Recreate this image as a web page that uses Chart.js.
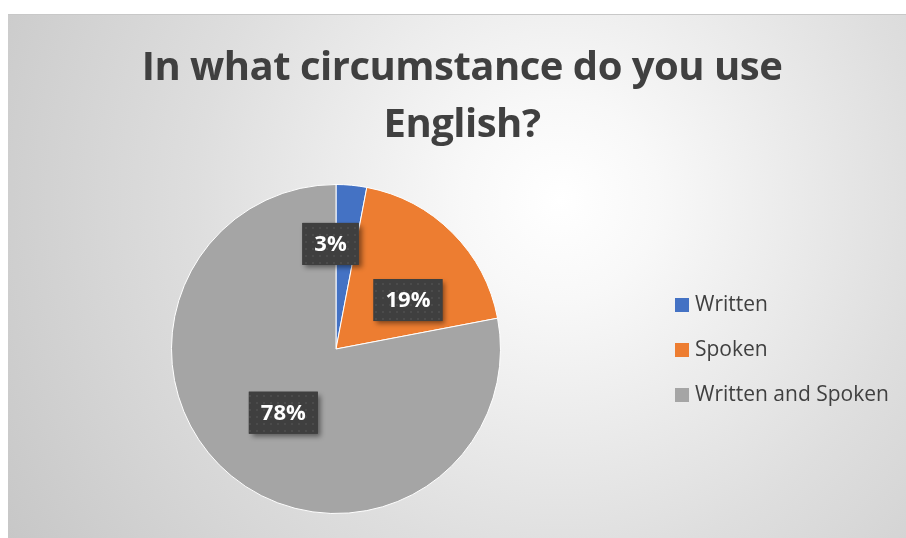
<!DOCTYPE html>
<html>
<head>
<meta charset="utf-8">
<script src="https://cdn.jsdelivr.net/npm/chart.js@4.4.1/dist/chart.umd.min.js"></script>
<style>
    html, body {
        margin: 0;
        padding: 0;
        background: #ffffff;
    }

    #wrap {
        position: absolute;
        left: 8px;
        top: 14px;
        width: 898px;
        height: 524px;
    }
</style>
</head>
<body>
<div id="wrap">
    <canvas id="myChart" width="898" height="524"></canvas>
</div>

<script>
    const titleLines = ['In what circumstance do you use', 'English?'];
    const categories = ['Written', 'Spoken', 'Written and Spoken'];
    const shares = [3, 19, 78];
    const sliceColors = ['#4472C4', '#ED7D31', '#A5A5A5'];

    const textColor = '#404040';
    const fontFamily = '"Open Sans", "Noto Sans", sans-serif';

    // shaded backdrop behind the whole chart
    const backdrop = {
        id: 'backdrop',
        beforeDraw(chart) {
            const ctx = chart.ctx;
            const w = chart.width, h = chart.height;
            const g = ctx.createRadialGradient(552, 186, 0, 552, 186, 660);
            g.addColorStop(0, '#ffffff');
            g.addColorStop(0.15, '#f8f8f8');
            g.addColorStop(0.55, '#dedede');
            g.addColorStop(1, '#c6c6c6');
            ctx.save();
            ctx.fillStyle = g;
            ctx.fillRect(0, 0, w, h);
            ctx.strokeStyle = '#c8c8c8';
            ctx.lineWidth = 1;
            ctx.beginPath();
            ctx.moveTo(0, 0.5);
            ctx.lineTo(w, 0.5);
            ctx.stroke();
            ctx.restore();
        }
    };

    // two-line heading
    const heading = {
        id: 'heading',
        afterDraw(chart) {
            const ctx = chart.ctx;
            ctx.save();
            ctx.fillStyle = textColor;
            ctx.font = 'bold 40px ' + fontFamily;
            ctx.letterSpacing = '-0.5px';
            ctx.textAlign = 'center';
            ctx.textBaseline = 'alphabetic';
            titleLines.forEach((line, i) => {
                ctx.fillText(line, 454, 66 + i * 57);
            });
            ctx.restore();
        }
    };

    // legend on the right side
    const sideLegend = {
        id: 'sideLegend',
        afterDraw(chart) {
            const ctx = chart.ctx;
            const ds = chart.data.datasets[0];
            ctx.save();
            ctx.font = '21px ' + fontFamily;
            ctx.textBaseline = 'middle';
            ctx.textAlign = 'left';
            chart.data.labels.forEach((label, i) => {
                const cy = 291 + i * 45;
                ctx.fillStyle = ds.backgroundColor[i];
                ctx.fillRect(667, cy - 7, 14, 14);
                ctx.fillStyle = textColor;
                ctx.fillText(label, 687, cy);
            });
            ctx.restore();
        }
    };

    // dark boxes holding the percentages
    function dotPattern(ctx) {
        const p = document.createElement('canvas');
        p.width = 7;
        p.height = 7;
        const pc = p.getContext('2d');
        pc.fillStyle = '#3f3f3f';
        pc.fillRect(0, 0, 7, 7);
        pc.fillStyle = '#4b4b4b';
        pc.fillRect(3, 3, 2, 2);
        return ctx.createPattern(p, 'repeat');
    }

    const labelNudge = [[-14, -15], [8, 15], [5, -6]];

    const valueBoxes = {
        id: 'valueBoxes',
        afterDatasetsDraw(chart) {
            const ctx = chart.ctx;
            const meta = chart.getDatasetMeta(0);
            const values = chart.data.datasets[0].data;
            const pattern = dotPattern(ctx);
            ctx.save();
            ctx.font = 'bold 22px ' + fontFamily;
            meta.data.forEach((arc, i) => {
                const p = arc.getProps(['x', 'y', 'startAngle', 'endAngle', 'outerRadius'], true);
                const mid = (p.startAngle + p.endAngle) / 2;
                const d = p.outerRadius * 0.55;
                const cx = p.x + Math.cos(mid) * d + labelNudge[i][0];
                const cy = p.y + Math.sin(mid) * d + labelNudge[i][1];
                const text = values[i] + '%';
                const bw = ctx.measureText(text).width + 24;
                const bh = 42;

                ctx.save();
                ctx.shadowColor = 'rgba(0,0,0,0.45)';
                ctx.shadowBlur = 5;
                ctx.shadowOffsetX = 3;
                ctx.shadowOffsetY = 3;
                ctx.fillStyle = '#3f3f3f';
                ctx.fillRect(cx - bw / 2, cy - bh / 2, bw, bh);
                ctx.restore();

                ctx.fillStyle = pattern;
                ctx.fillRect(cx - bw / 2, cy - bh / 2, bw, bh);

                ctx.fillStyle = '#ffffff';
                ctx.textAlign = 'center';
                ctx.textBaseline = 'middle';
                ctx.fillText(text, cx, cy + 1);
            });
            ctx.restore();
        }
    };

    const data = {
        labels: categories,
        datasets: [{
            data: shares,
            backgroundColor: sliceColors,
            borderColor: '#ffffff',
            borderWidth: 1
        }]
    };

    const config = {
        type: 'pie',
        data: data,
        plugins: [backdrop, heading, sideLegend, valueBoxes],
        options: {
            responsive: false,
            animation: false,
            layout: {
                padding: { top: 170, bottom: 24, left: 163, right: 405 }
            },
            plugins: {
                legend: { display: false },
                title: { display: false },
                tooltip: { enabled: false }
            }
        }
    };

    const myChart = new Chart(
        document.getElementById('myChart'),
        config
    );
</script>
</body>
</html>
